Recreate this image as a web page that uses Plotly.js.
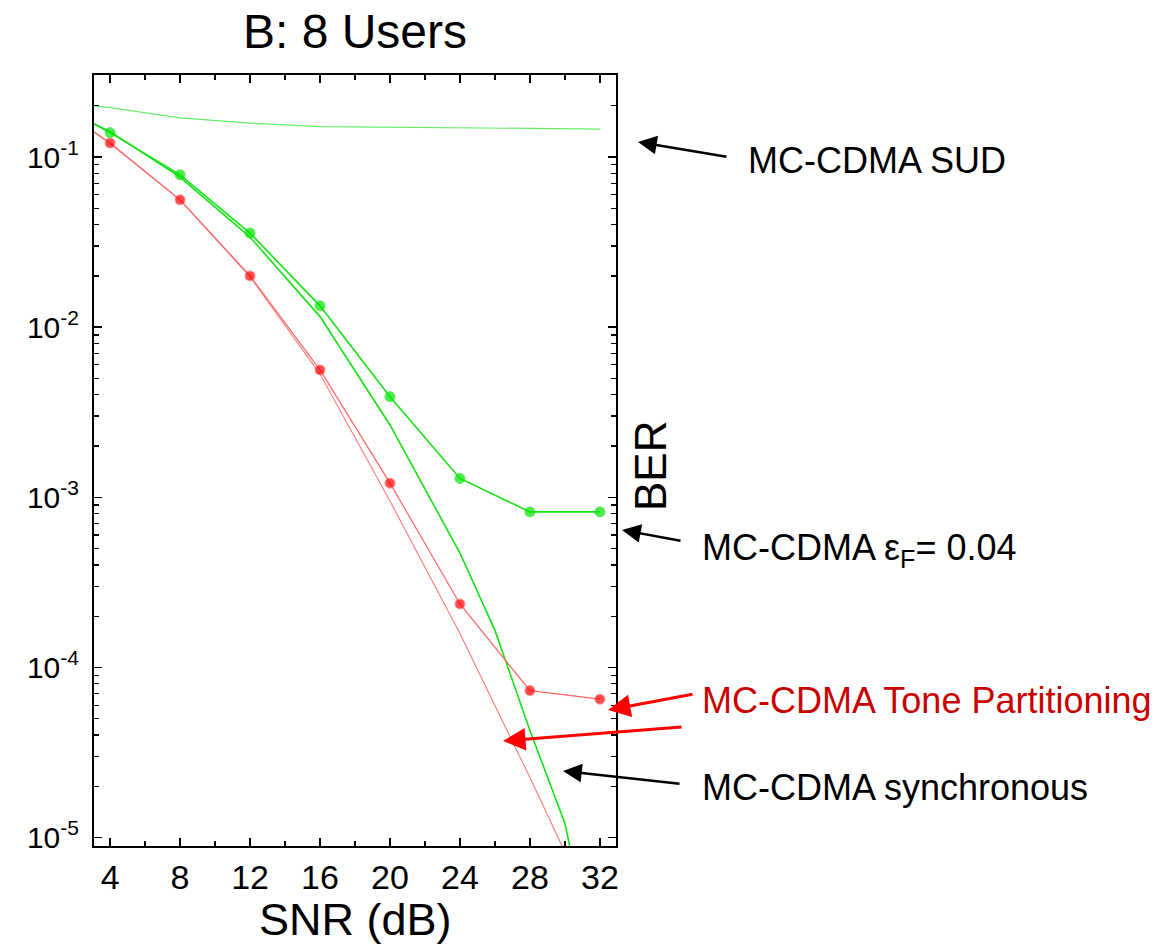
<!DOCTYPE html>
<html>
<head>
<meta charset="utf-8">
<script src="https://cdn.plot.ly/plotly-3.0.1.min.js"></script>
<style>
  html, body { margin: 0; padding: 0; background: #fff; }
  #chart { width: 1168px; height: 946px; }
</style>
</head>
<body>
<div id="chart"></div>
<script>
// ---- data ----
const snrMarked = [3, 4, 8, 12, 16, 20, 24, 28, 32];
const berEps    = [0.158, 0.139, 0.0786, 0.0357, 0.01334, 0.0039, 0.00129, 0.00082, 0.00082];
const berTone   = [0.142, 0.1207, 0.056, 0.020, 0.0056, 0.00121, 0.000236, 0.000073, 0.000065];

const snrSync   = [3, 4, 8, 12, 16, 20, 24, 26, 28, 30, 32];
const berSync   = [0.158, 0.141, 0.0762, 0.0338, 0.01153, 0.00266, 0.00047, 0.000165, 0.0000426, 0.0000121, 0.0000013];

const snrTheory = [3, 4, 8, 12, 16, 20, 24, 28, 32];
const berTheory = [0.142, 0.12, 0.056, 0.0198, 0.0053, 0.00095, 0.000158, 0.0000225, 0.000003];

const snrSud    = [3, 4, 8, 12, 16, 20, 24, 28, 32];
const berSud    = [0.2, 0.195, 0.17, 0.158, 0.151, 0.15, 0.149, 0.147, 0.146];

const xTickVals = [4, 8, 12, 16, 20, 24, 28, 32];
const yTickVals = [1e-5, 1e-4, 1e-3, 1e-2, 1e-1];
const yTickText = ['10<sup>-5</sup>', '10<sup>-4</sup>', '10<sup>-3</sup>', '10<sup>-2</sup>', '10<sup>-1</sup>'];

// ---- layout helpers ----
const W = 1168, H = 946;
const M = { l: 94, r: 552, t: 75, b: 100 };
const pw = W - M.l - M.r, ph = H - M.t - M.b;
const px2x = p => (p - M.l) / pw;
const px2y = p => (H - M.b - p) / ph;

const FONT = 'Arial, "Liberation Sans", sans-serif';

const minorY = [];
for (let e = -6; e <= -1; e++) for (let d = 2; d <= 9; d++) minorY.push(d * Math.pow(10, e));

const markerSizes = snrMarked.map((v, i) => i === 0 ? 0 : 10);

const traces = [
  { x: snrSud, y: berSud, mode: 'lines', line: { color: 'rgb(100,238,100)', width: 1.2 } },
  { x: snrTheory, y: berTheory, mode: 'lines', line: { color: 'rgb(255,130,130)', width: 1.2 } },
  { x: snrSync, y: berSync, mode: 'lines', line: { color: 'rgb(20,225,20)', width: 1.6 } },
  { x: snrMarked, y: berTone, mode: 'lines+markers', line: { color: 'rgb(255,100,100)', width: 1.2 },
    marker: { color: 'rgb(255,0,0)', size: markerSizes } },
  { x: snrMarked, y: berEps, mode: 'lines+markers', line: { color: 'rgb(20,225,20)', width: 1.6 },
    marker: { color: 'rgb(0,230,0)', size: markerSizes } }
];

function arrow(tipX, tipY, tailX, tailY, color, width) {
  return {
    xref: 'paper', yref: 'paper', x: px2x(tipX), y: px2y(tipY),
    ax: tailX - tipX, ay: tailY - tipY, axref: 'pixel', ayref: 'pixel',
    text: '', showarrow: true, arrowhead: 2, arrowsize: 1.5, arrowwidth: width, arrowcolor: color
  };
}
function label(text, leftX, midY, color) {
  return {
    xref: 'paper', yref: 'paper', x: px2x(leftX), y: px2y(midY), xanchor: 'left', yanchor: 'middle',
    text: text, showarrow: false, font: { family: FONT, size: 36, color: color }
  };
}

const layout = {
  width: W, height: H,
  margin: M,
  paper_bgcolor: '#fff', plot_bgcolor: '#fff',
  showlegend: false,
  font: { family: FONT, color: '#000' },
  title: { text: 'B: 8 Users', font: { family: FONT, size: 48, color: '#000' },
           x: 355 / W, xanchor: 'center', xref: 'container', y: 1 - 31 / H, yanchor: 'middle', yref: 'container' },
  xaxis: {
    range: [3.08, 32.92], tickvals: xTickVals, ticktext: xTickVals.map(String),
    ticks: 'inside', ticklen: 8, tickwidth: 1.5, tickcolor: '#000',
    minor: { tickvals: [6, 10, 14, 18, 22, 26, 30], ticks: 'inside', ticklen: 5, tickwidth: 1.2, tickcolor: '#000' },
    showline: true, linecolor: '#000', linewidth: 2, mirror: 'ticks',
    showgrid: false, zeroline: false,
    tickfont: { family: FONT, size: 34, color: '#000' }, ticklabelstandoff: 0,
    automargin: false
  },
  yaxis: {
    type: 'log', range: [-5.05, -0.518], tickvals: yTickVals, ticktext: yTickText,
    ticks: 'inside', ticklen: 8, tickwidth: 1.5, tickcolor: '#000',
    minor: { tickvals: minorY, ticks: 'inside', ticklen: 5, tickwidth: 1.2, tickcolor: '#000' },
    showline: true, linecolor: '#000', linewidth: 2, mirror: 'ticks',
    showgrid: false, zeroline: false,
    tickfont: { family: FONT, size: 30, color: '#000' }, ticklabelstandoff: 7,
    automargin: false
  },
  annotations: [
    { xref: 'paper', yref: 'paper', x: 0.5, y: px2y(919), text: 'SNR (dB)',
      showarrow: false, xanchor: 'center', yanchor: 'middle', font: { family: FONT, size: 45, color: '#000' } },
    { xref: 'paper', yref: 'paper', x: px2x(650), y: px2y(466), text: 'BER', textangle: -90,
      showarrow: false, xanchor: 'center', yanchor: 'middle', font: { family: FONT, size: 44, color: '#000' } },
    label('MC-CDMA SUD', 746, 160, '#000'),
    label('MC-CDMA ε<sub>F</sub>= 0.04', 700, 550, '#000'),
    label('MC-CDMA Tone Partitioning', 700, 700, 'rgb(200,0,0)'),
    label('MC-CDMA synchronous', 700, 787, '#000'),
    arrow(638, 142, 728, 157, '#000', 2.5),
    arrow(622, 530, 682, 541, '#000', 2.5),
    arrow(608, 710, 694, 694, 'rgb(255,0,0)', 3),
    arrow(503, 741, 683, 727, 'rgb(255,0,0)', 3),
    arrow(563, 771, 681, 784, '#000', 2.5)
  ]
};

Plotly.newPlot('chart', traces, layout, { displayModeBar: false, staticPlot: true });
</script>
</body>
</html>
